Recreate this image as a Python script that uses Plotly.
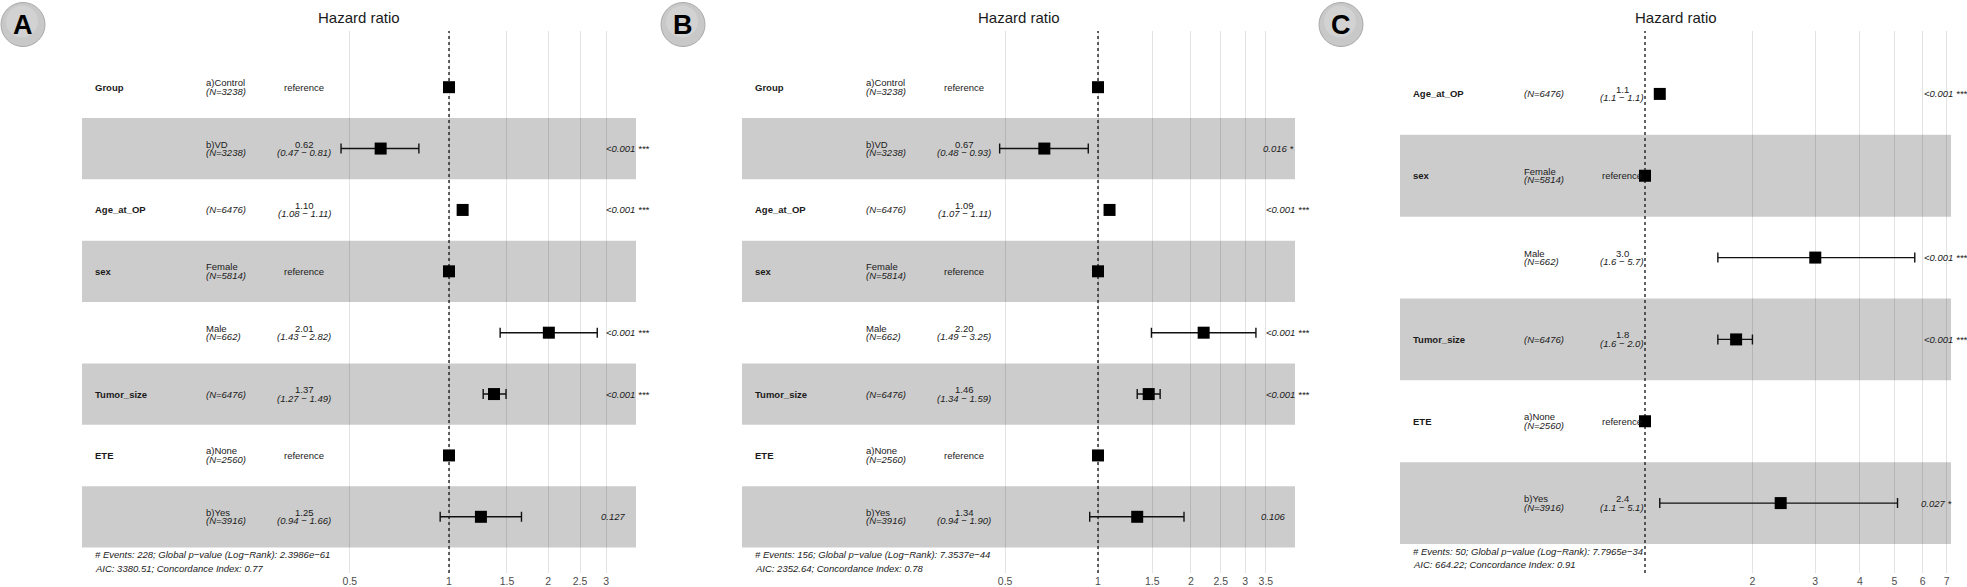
import plotly.graph_objects as go

# ---- data ----
var_ab = ["Group", "", "Age_at_OP", "sex", "", "Tumor_size", "ETE", ""]
level_ab = ["a)Control", "b)VD", "", "Female", "Male", "", "a)None", "b)Yes"]
n_ab = [3238, 3238, 6476, 5814, 662, 6476, 2560, 3916]

hr_a = [1, 0.62, 1.10, 1, 2.01, 1.37, 1, 1.25]
lo_a = [None, 0.47, 1.08, None, 1.43, 1.27, None, 0.94]
hi_a = [None, 0.81, 1.11, None, 2.82, 1.49, None, 1.66]
p_a = ["", "<0.001 ***", "<0.001 ***", "", "<0.001 ***", "<0.001 ***", "", "0.127"]
ticks_a = [0.5, 1, 1.5, 2, 2.5, 3]
footer_a = ["# Events: 228; Global p\u2212value (Log\u2212Rank): 2.3986e\u221261",
            "AIC: 3380.51; Concordance Index: 0.77"]

hr_b = [1, 0.67, 1.09, 1, 2.20, 1.46, 1, 1.34]
lo_b = [None, 0.48, 1.07, None, 1.49, 1.34, None, 0.94]
hi_b = [None, 0.93, 1.11, None, 3.25, 1.59, None, 1.90]
p_b = ["", "0.016 *", "<0.001 ***", "", "<0.001 ***", "<0.001 ***", "", "0.106"]
ticks_b = [0.5, 1, 1.5, 2, 2.5, 3, 3.5]
footer_b = ["# Events: 156; Global p\u2212value (Log\u2212Rank): 7.3537e\u221244",
            "AIC: 2352.64; Concordance Index: 0.78"]

var_c = ["Age_at_OP", "sex", "", "Tumor_size", "ETE", ""]
level_c = ["", "Female", "Male", "", "a)None", "b)Yes"]
n_c = [6476, 5814, 662, 6476, 2560, 3916]
hr_c = [1.1, 1, 3.0, 1.8, 1, 2.4]
lo_c = [1.1, None, 1.6, 1.6, None, 1.1]
hi_c = [1.1, None, 5.7, 2.0, None, 5.1]
p_c = ["<0.001 ***", "", "<0.001 ***", "<0.001 ***", "", "0.027 *"]
ticks_c = [2, 3, 4, 5, 6, 7]
footer_c = ["# Events: 50; Global p\u2212value (Log\u2212Rank): 7.7965e\u221234",
            "AIC: 664.22; Concordance Index: 0.91"]

W, H = 1967, 587
FONT = "Liberation Sans, Arial, sans-serif"
TXT = "#1a1a1a"
FS = 9.5

panels = [
    dict(tag="A", var=var_ab, level=level_ab, n=n_ab, hr=hr_a, lo=lo_a, hi=hi_a, p=p_a,
         ticks=ticks_a, footer=footer_a, digits=2, left=82, right=636,
         xrange=[-1.1146, 0.5679], rows_top=56.5, rows_bot=547.5),
    dict(tag="B", var=var_ab, level=level_ab, n=n_ab, hr=hr_b, lo=lo_b, hi=hi_b, p=p_b,
         ticks=ticks_b, footer=footer_b, digits=2, left=742, right=1295,
         xrange=[-1.1538, 0.6385], rows_top=56.5, rows_bot=547.5),
    dict(tag="C", var=var_c, level=level_c, n=n_c, hr=hr_c, lo=lo_c, hi=hi_c, p=p_c,
         ticks=ticks_c, footer=footer_c, digits=1, left=1400, right=1951,
         xrange=[-0.6865, 0.8574], rows_top=53, rows_bot=544),
]

PTOP, PBOT = 31, 573  # panel area in px from the top


def fx(px):
    return px / W


def fy(px):
    return 1 - px / H


fig = go.Figure()
layout = {}

for i, pn in enumerate(panels, start=1):
    sfx = "" if i == 1 else str(i)
    xa, ya = "x" + sfx, "y" + sfx
    nrow = len(pn["hr"])
    rows = list(range(nrow, 0, -1))
    s = (pn["rows_bot"] - pn["rows_top"]) / nrow
    ymax = nrow + 0.5 + (pn["rows_top"] - PTOP) / s
    ymin = 0.5 - (PBOT - pn["rows_bot"]) / s
    L, R = pn["left"], pn["right"]

    layout["xaxis" + sfx] = dict(
        type="log", domain=[fx(L), fx(R)], range=pn["xrange"], anchor=ya,
        tickvals=pn["ticks"], ticktext=[f"{t:g}" for t in pn["ticks"]],
        showgrid=True, gridcolor="rgba(0,0,0,0.11)", gridwidth=1,
        zeroline=False, showline=False, ticks="",
        tickfont=dict(family=FONT, size=10.5, color="#4d4d4d"),
    )
    layout["yaxis" + sfx] = dict(
        domain=[fy(PBOT), fy(PTOP)], range=[ymin, ymax], anchor=xa,
        visible=False, showgrid=False, zeroline=False,
    )

    # alternating bands
    for j, r in enumerate(rows):
        if j % 2 == 1:
            fig.add_shape(type="rect", xref=xa + " domain", yref=ya, x0=0, x1=1,
                          y0=r - 0.5, y1=r + 0.5, fillcolor="rgba(0,0,0,0.2)",
                          line=dict(width=0), layer="below")

    # confidence intervals
    ci = [j for j in range(nrow) if pn["lo"][j] is not None]
    fig.add_trace(go.Scatter(
        x=[pn["hr"][j] for j in ci], y=[rows[j] for j in ci], mode="markers",
        marker=dict(size=2, color="rgba(0,0,0,0)"),
        error_x=dict(type="data", symmetric=False,
                     array=[pn["hi"][j] - pn["hr"][j] for j in ci],
                     arrayminus=[pn["hr"][j] - pn["lo"][j] for j in ci],
                     color="#111111", thickness=1.4, width=5),
        xaxis=xa, yaxis=ya, showlegend=False, hoverinfo="skip"))

    # reference line at HR = 1
    fig.add_shape(type="line", xref=xa, yref=ya + " domain", x0=1, x1=1, y0=0, y1=1,
                  line=dict(color="#222222", width=1.4, dash="dot"), layer="below")

    # point estimates
    fig.add_trace(go.Scatter(
        x=pn["hr"], y=rows, mode="markers",
        marker=dict(symbol="square", size=12, color="black"),
        xaxis=xa, yaxis=ya, showlegend=False, hoverinfo="skip"))

    def txt(x_px, y, text, anchor="left", yshift=0, size=FS, color=TXT):
        fig.add_annotation(x=fx(x_px), xref="paper", y=y, yref=ya, text=text,
                           xanchor=anchor, yanchor="middle", yshift=yshift,
                           showarrow=False, font=dict(family=FONT, size=size, color=color))

    d = pn["digits"]
    for j, r in enumerate(rows):
        if pn["var"][j]:
            txt(L + 11, r, "<b>" + pn["var"][j] + "</b>")
        ntxt = f"<i>(N={pn['n'][j]})</i>"
        if pn["level"][j]:
            txt(L + 122, r, pn["level"][j], yshift=4.5)
            txt(L + 122, r, ntxt, yshift=-4)
        else:
            txt(L + 122, r, ntxt)
        if pn["lo"][j] is None:
            txt(L + 222, r, "reference", anchor="center")
        else:
            txt(L + 222, r, f"{pn['hr'][j]:.{d}f}", anchor="center", yshift=4.5)
            txt(L + 222, r, f"<i>({pn['lo'][j]:.{d}f} \u2212 {pn['hi'][j]:.{d}f})</i>",
                anchor="center", yshift=-4)
        if pn["p"][j]:
            txt(L + 513 + 0.2 * len(pn["p"][j]) * 4.4, r, "<i>" + pn["p"][j] + "</i>")

    # footer
    txt(L + 11, 0.5, "<i>" + pn["footer"][0] + "</i>", yshift=-7)
    txt(L + 11, 0.5, "<i>" + pn["footer"][1] + "</i>", yshift=-20.5)

    # title
    fig.add_annotation(x=fx((L + R) / 2), xref="paper", y=fy(17), yref="paper",
                       text="Hazard ratio", showarrow=False, xanchor="center", yanchor="middle",
                       font=dict(family=FONT, size=15, color=TXT))

    # panel letter badge
    cx, cy, rad = L - 59, 24.5, 22
    fig.add_shape(type="circle", xref="paper", yref="paper",
                  x0=fx(cx - rad), x1=fx(cx + rad), y0=fy(cy + rad), y1=fy(cy - rad),
                  fillcolor="#c8c8c8", line=dict(color="#a9a9a9", width=1))
    fig.add_shape(type="circle", xref="paper", yref="paper",
                  x0=fx(cx - rad + 5), x1=fx(cx + rad - 7), y0=fy(cy + rad - 9), y1=fy(cy - rad + 3),
                  fillcolor="rgba(255,255,255,0.18)", line=dict(width=0))
    fig.add_annotation(x=fx(cx), xref="paper", y=fy(cy + 1), yref="paper",
                       text="<b>" + pn["tag"] + "</b>", showarrow=False,
                       xanchor="center", yanchor="middle",
                       font=dict(family=FONT, size=27, color="black"))

fig.update_layout(
    width=W, height=H, margin=dict(l=0, r=0, t=0, b=0),
    paper_bgcolor="white", plot_bgcolor="white", showlegend=False,
    **layout,
)

# the page body has a default 8px margin; drop it so the figure fills the window
fig.write_html("out.html", config={"displayModeBar": False},
               post_script="document.body.style.margin='0';document.body.style.overflow='hidden';")
